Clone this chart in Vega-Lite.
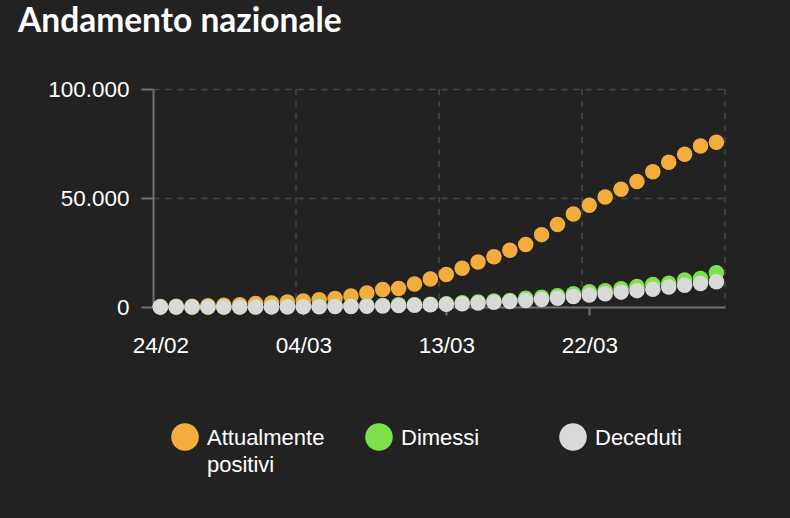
{
  "$schema": "https://vega.github.io/schema/vega-lite/v6.json",
  "width": 572,
  "height": 218,
  "autosize": {"type": "none"},
  "padding": {"left": 153, "top": 89, "right": 65, "bottom": 211},
  "background": "#222222",
  "title": {
    "text": "Andamento nazionale",
    "anchor": "start",
    "frame": "group",
    "dx": -135,
    "offset": 39,
    "font": "Lato",
    "fontSize": 33.5,
    "fontWeight": "bold",
    "color": "#ffffff"
  },
  "data": {
    "values": [
      {"data": "2020-02-24", "Attualmente positivi": 221, "Dimessi": 1, "Deceduti": 7},
      {"data": "2020-02-25", "Attualmente positivi": 311, "Dimessi": 1, "Deceduti": 10},
      {"data": "2020-02-26", "Attualmente positivi": 385, "Dimessi": 3, "Deceduti": 12},
      {"data": "2020-02-27", "Attualmente positivi": 588, "Dimessi": 45, "Deceduti": 17},
      {"data": "2020-02-28", "Attualmente positivi": 821, "Dimessi": 46, "Deceduti": 21},
      {"data": "2020-02-29", "Attualmente positivi": 1049, "Dimessi": 50, "Deceduti": 29},
      {"data": "2020-03-01", "Attualmente positivi": 1577, "Dimessi": 83, "Deceduti": 34},
      {"data": "2020-03-02", "Attualmente positivi": 1835, "Dimessi": 149, "Deceduti": 52},
      {"data": "2020-03-03", "Attualmente positivi": 2263, "Dimessi": 160, "Deceduti": 79},
      {"data": "2020-03-04", "Attualmente positivi": 2706, "Dimessi": 276, "Deceduti": 107},
      {"data": "2020-03-05", "Attualmente positivi": 3296, "Dimessi": 414, "Deceduti": 148},
      {"data": "2020-03-06", "Attualmente positivi": 3916, "Dimessi": 523, "Deceduti": 197},
      {"data": "2020-03-07", "Attualmente positivi": 5061, "Dimessi": 589, "Deceduti": 233},
      {"data": "2020-03-08", "Attualmente positivi": 6387, "Dimessi": 622, "Deceduti": 366},
      {"data": "2020-03-09", "Attualmente positivi": 7985, "Dimessi": 724, "Deceduti": 463},
      {"data": "2020-03-10", "Attualmente positivi": 8514, "Dimessi": 1004, "Deceduti": 631},
      {"data": "2020-03-11", "Attualmente positivi": 10590, "Dimessi": 1045, "Deceduti": 827},
      {"data": "2020-03-12", "Attualmente positivi": 12839, "Dimessi": 1258, "Deceduti": 1016},
      {"data": "2020-03-13", "Attualmente positivi": 14955, "Dimessi": 1439, "Deceduti": 1266},
      {"data": "2020-03-14", "Attualmente positivi": 17750, "Dimessi": 1966, "Deceduti": 1441},
      {"data": "2020-03-15", "Attualmente positivi": 20603, "Dimessi": 2335, "Deceduti": 1809},
      {"data": "2020-03-16", "Attualmente positivi": 23073, "Dimessi": 2749, "Deceduti": 2158},
      {"data": "2020-03-17", "Attualmente positivi": 26062, "Dimessi": 2941, "Deceduti": 2503},
      {"data": "2020-03-18", "Attualmente positivi": 28710, "Dimessi": 4025, "Deceduti": 2978},
      {"data": "2020-03-19", "Attualmente positivi": 33190, "Dimessi": 4440, "Deceduti": 3405},
      {"data": "2020-03-20", "Attualmente positivi": 37860, "Dimessi": 5129, "Deceduti": 4032},
      {"data": "2020-03-21", "Attualmente positivi": 42681, "Dimessi": 6072, "Deceduti": 4825},
      {"data": "2020-03-22", "Attualmente positivi": 46638, "Dimessi": 7024, "Deceduti": 5476},
      {"data": "2020-03-23", "Attualmente positivi": 50418, "Dimessi": 7432, "Deceduti": 6077},
      {"data": "2020-03-24", "Attualmente positivi": 54030, "Dimessi": 8326, "Deceduti": 6820},
      {"data": "2020-03-25", "Attualmente positivi": 57521, "Dimessi": 9362, "Deceduti": 7503},
      {"data": "2020-03-26", "Attualmente positivi": 62013, "Dimessi": 10361, "Deceduti": 8165},
      {"data": "2020-03-27", "Attualmente positivi": 66414, "Dimessi": 10950, "Deceduti": 9134},
      {"data": "2020-03-28", "Attualmente positivi": 70065, "Dimessi": 12384, "Deceduti": 10023},
      {"data": "2020-03-29", "Attualmente positivi": 73880, "Dimessi": 13030, "Deceduti": 10779},
      {"data": "2020-03-30", "Attualmente positivi": 75528, "Dimessi": 15729, "Deceduti": 11591}
    ]
  },
  "encoding": {
    "x": {
      "field": "data",
      "type": "temporal",
      "title": null,
      "scale": {
        "type": "utc",
        "domain": [
          {"year": 2020, "month": 2, "date": 23, "hours": 13, "utc": true},
          {"year": 2020, "month": 3, "date": 30, "hours": 13, "utc": true}
        ]
      },
      "axis": {
        "values": [
          {"year": 2020, "month": 2, "date": 24, "utc": true},
          {"year": 2020, "month": 3, "date": 4, "utc": true},
          {"year": 2020, "month": 3, "date": 13, "utc": true},
          {"year": 2020, "month": 3, "date": 22, "utc": true}
        ],
        "labelExpr": "utcFormat(datum.value, '%d/%m')",
        "grid": false,
        "domainColor": "#707070",
        "domainWidth": 2,
        "tickColor": "#707070",
        "tickWidth": 2,
        "tickSize": 8,
        "labelPadding": 19,
        "labelFont": "Liberation Sans",
        "labelFontSize": 22.5,
        "labelColor": "#ffffff",
        "labelAngle": 0
      }
    }
  },
  "layer": [
    {
      "data": {
        "values": [
          {"griglia": "2020-03-03T13:00:00Z"},
          {"griglia": "2020-03-12T13:00:00Z"},
          {"griglia": "2020-03-21T13:00:00Z"},
          {"griglia": "2020-03-30T13:00:00Z"}
        ]
      },
      "mark": {"type": "rule", "color": "#474747", "strokeDash": [6, 6], "strokeWidth": 1.5},
      "encoding": {
        "x": {"field": "griglia", "type": "temporal"}
      }
    },
    {
      "mark": {"type": "point", "filled": true, "opacity": 1, "size": 240, "strokeWidth": 0},
      "encoding": {
        "y": {
          "field": "Attualmente positivi",
          "type": "quantitative",
          "title": null,
          "scale": {"domain": [0, 100000]},
          "axis": {
            "values": [0, 50000, 100000],
            "labelExpr": "replace(format(datum.value, ','), ',', '.')",
            "grid": true,
            "gridColor": "#474747",
            "gridDash": [6, 6],
            "gridWidth": 1.5,
            "domainColor": "#707070",
            "domainWidth": 2,
            "tickColor": "#707070",
            "tickWidth": 2,
            "tickSize": 12,
            "labelPadding": 12,
            "labelFont": "Liberation Sans",
            "labelFontSize": 22.5,
            "labelColor": "#ffffff"
          }
        },
        "color": {"datum": "Attualmente positivi"}
      }
    },
    {
      "mark": {"type": "point", "filled": true, "opacity": 1, "size": 240, "strokeWidth": 0},
      "encoding": {
        "y": {"field": "Dimessi", "type": "quantitative"},
        "color": {"datum": "Dimessi"}
      }
    },
    {
      "mark": {"type": "point", "filled": true, "opacity": 1, "size": 240, "strokeWidth": 0},
      "encoding": {
        "y": {"field": "Deceduti", "type": "quantitative"},
        "color": {
          "datum": "Deceduti",
          "type": "nominal",
          "scale": {
            "domain": ["Attualmente positivi", "Dimessi", "Deceduti"],
            "range": ["#F4AC3D", "#7DE14A", "#D9D9D9"]
          },
          "legend": {
            "title": null,
            "orient": "none",
            "legendX": 18,
            "legendY": 334,
            "direction": "horizontal",
            "columns": 3,
            "gridAlign": "all",
            "columnPadding": 40,
            "padding": 0,
            "symbolType": "circle",
            "symbolSize": 760,
            "symbolStrokeWidth": 0,
            "symbolOpacity": 1,
            "labelOffset": 8,
            "labelFont": "Liberation Sans",
            "labelFontSize": 22,
            "labelColor": "#ffffff",
            "labelLimit": 300,
            "labelBaseline": "alphabetic",
            "labelExpr": "datum.label == 'Attualmente positivi' ? ['Attualmente', 'positivi'] : [datum.label, ' ']",
            "encode": {"labels": {"update": {"lineHeight": {"value": 27}, "dy": {"value": 8}}}}
          }
        }
      }
    }
  ],
  "resolve": {"scale": {"y": "shared"}},
  "config": {"view": {"stroke": null}}
}
